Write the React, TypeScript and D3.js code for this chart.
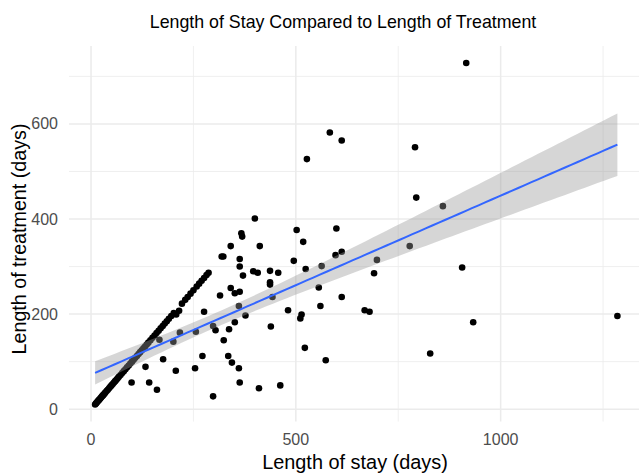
import React from 'react';
import * as d3 from 'd3';

// Length of stay (days) and length of treatment (days), one entry per patient
const stayDays = [
  10, 12, 13, 15, 17, 19, 21, 23, 25, 27, 29, 31, 33, 35, 38, 41, 44, 47, 50, 53,
  56, 59, 62, 65, 68, 72, 76, 80, 84, 88, 92, 96, 100, 104, 108, 112, 116, 120, 124, 128,
  132, 136, 140, 145, 150, 155, 160, 165, 170, 175, 180, 185, 190, 196, 202, 208, 215, 222, 230, 236,
  243, 250, 258, 264, 270, 276, 282, 287,
  527, 400, 502, 367, 369, 518, 341, 412, 319, 323, 363, 363, 495, 396, 407, 437, 457, 371, 524, 437,
  437, 341, 351, 363, 315, 443, 556, 361, 560, 276, 481, 377, 514, 511, 298, 304, 351, 337, 439, 256,
  217, 201, 167, 324, 522, 176, 272, 335, 344, 361, 133, 207, 254, 99, 142, 161, 363, 410, 462, 298,
  916, 583, 612, 791, 794, 859, 599, 778, 597, 612, 563, 698, 691, 906, 612, 668, 680, 933, 1285, 573,
  828,
];
const treatmentDays = [
  10, 12, 13, 15, 17, 19, 21, 23, 25, 27, 29, 31, 33, 35, 38, 41, 44, 47, 50, 53,
  56, 59, 62, 65, 68, 72, 76, 80, 84, 88, 92, 96, 100, 104, 108, 112, 116, 120, 124, 128,
  132, 136, 140, 145, 150, 155, 160, 165, 170, 175, 180, 185, 190, 196, 202, 199, 207, 222, 230, 236,
  243, 250, 258, 264, 270, 276, 282, 287,
  526, 401, 377, 370, 363, 352, 343, 343, 321, 321, 316, 300, 312, 290, 287, 291, 287, 281, 295, 267,
  262, 255, 244, 247, 239, 236, 256, 217, 217, 205, 208, 197, 199, 191, 175, 166, 183, 168, 174, 163,
  161, 142, 146, 145, 129, 105, 112, 112, 98, 86, 89, 81, 86, 56, 56, 41, 56, 44, 50, 27,
  728, 582, 565, 551, 445, 427, 380, 343, 324, 331, 301, 314, 286, 298, 236, 208, 205, 183, 196, 103,
  117,
];

const xMajor = [0, 500, 1000];
const xMinor = [250, 750, 1250];
const yMajor = [0, 200, 400, 600];
const yMinor = [100, 300, 500, 700];

const titleText = 'Length of Stay Compared to Length of Treatment';
const xTitle = 'Length of stay (days)';
const yTitle = 'Length of treatment (days)';

const W = 639;
const H = 475;
const FONT = '"Liberation Sans", Arial, sans-serif';

export default function App() {
  const n = stayDays.length;
  const pts = stayDays.map((s, i) => ({ x: s, y: treatmentDays[i] }));
  const [xmin, xmax] = d3.extent(stayDays) as [number, number];
  const [ymin, ymax] = d3.extent(treatmentDays) as [number, number];
  const xe = (xmax - xmin) * 0.05;
  const ye = (ymax - ymin) * 0.05;

  const panel = { left: 69, right: 643.5, top: 46, bottom: 421.5 };
  const x = d3.scaleLinear().domain([xmin - xe, xmax + xe]).range([panel.left, panel.right]);
  const y = d3.scaleLinear().domain([ymin - ye, ymax + ye]).range([panel.bottom, panel.top]);

  // OLS fit with 95% confidence band
  const xbar = d3.mean(stayDays) as number;
  const ybar = d3.mean(treatmentDays) as number;
  let sxx = 0, sxy = 0;
  pts.forEach((p) => { sxx += (p.x - xbar) ** 2; sxy += (p.x - xbar) * (p.y - ybar); });
  const slope = sxy / sxx;
  const intercept = ybar - slope * xbar;
  let sse = 0;
  pts.forEach((p) => { sse += (p.y - (intercept + slope * p.x)) ** 2; });
  const sigma = Math.sqrt(sse / (n - 2));
  const tq = 1.976;
  const grid = d3.range(80).map((i) => xmin + ((xmax - xmin) * i) / 79);
  const fit = grid.map((gx) => {
    const yh = intercept + slope * gx;
    const se = sigma * Math.sqrt(1 / n + (gx - xbar) ** 2 / sxx);
    return { x: gx, y: yh, lo: yh - tq * se, hi: yh + tq * se };
  });
  const area = d3.area<any>().x((d) => x(d.x)).y0((d) => y(d.lo)).y1((d) => y(d.hi));
  const line = d3.line<any>().x((d) => x(d.x)).y((d) => y(d.y));

  const gridColor = '#EBEBEB';

  return (
    <svg width={W} height={H} style={{ position: 'absolute', left: 0, top: 0, background: '#fff' }}>
      <defs>
        <clipPath id="panel">
          <rect x={panel.left} y={panel.top} width={panel.right - panel.left} height={panel.bottom - panel.top} />
        </clipPath>
      </defs>
      <g>
        {xMinor.map((v) => (
          <line key={'xm' + v} x1={x(v)} x2={x(v)} y1={panel.top} y2={panel.bottom} stroke={gridColor} strokeWidth={0.8} />
        ))}
        {yMinor.map((v) => (
          <line key={'ym' + v} x1={panel.left} x2={panel.right} y1={y(v)} y2={y(v)} stroke={gridColor} strokeWidth={0.8} />
        ))}
        {xMajor.map((v) => (
          <line key={'xM' + v} x1={x(v)} x2={x(v)} y1={panel.top} y2={panel.bottom} stroke={gridColor} strokeWidth={1.5} />
        ))}
        {yMajor.map((v) => (
          <line key={'yM' + v} x1={panel.left} x2={panel.right} y1={y(v)} y2={y(v)} stroke={gridColor} strokeWidth={1.5} />
        ))}
      </g>
      <g clipPath="url(#panel)">
        {pts.map((p, i) => (
          <circle key={i} cx={x(p.x)} cy={y(p.y)} r={3.3} fill="#000" />
        ))}
        <path d={area(fit) || ''} fill="#999999" fillOpacity={0.4} />
        <path d={line(fit) || ''} fill="none" stroke="#3366FF" strokeWidth={2} />
      </g>
      <g fontFamily={FONT} fontSize={16} fill="#4D4D4D">
        {xMajor.map((v) => (
          <text key={'xt' + v} x={x(v)} y={445} textAnchor="middle">{v}</text>
        ))}
        {yMajor.map((v) => (
          <text key={'yt' + v} x={58} y={y(v) + 5.5} textAnchor="end">{v}</text>
        ))}
      </g>
      <text x={343} y={27.5} textAnchor="middle" fontFamily={FONT} fontSize={17.8} fill="#000">{titleText}</text>
      <text x={355} y={469} textAnchor="middle" fontFamily={FONT} fontSize={19.9} fill="#000">{xTitle}</text>
      <text transform="translate(26,239) rotate(-90)" textAnchor="middle" fontFamily={FONT} fontSize={19.7} fill="#000">{yTitle}</text>
    </svg>
  );
}
